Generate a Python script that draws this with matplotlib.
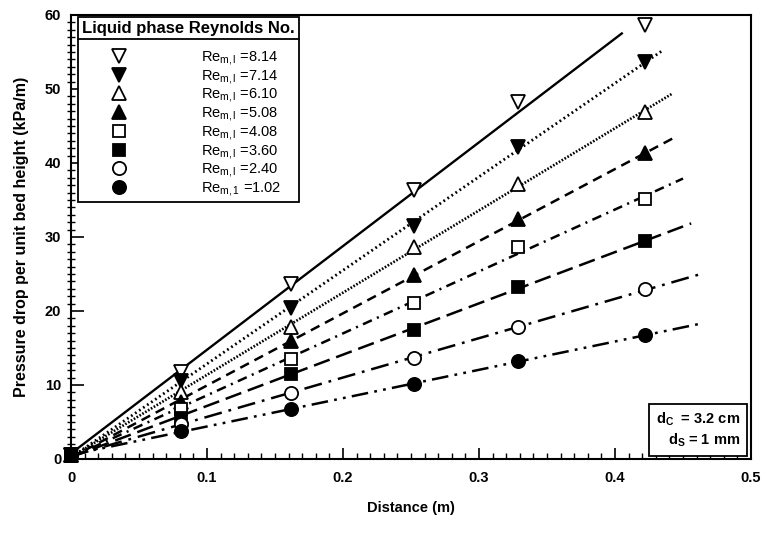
import numpy as np
import matplotlib
matplotlib.use("Agg")
import matplotlib.pyplot as plt
from matplotlib.lines import Line2D
from matplotlib.ticker import MultipleLocator, FuncFormatter

plt.rcParams['font.family'] = ['Liberation Sans', 'DejaVu Sans']
plt.rcParams['mathtext.fontset'] = 'custom'
plt.rcParams['mathtext.rm'] = 'Liberation Sans'
plt.rcParams['mathtext.it'] = 'Liberation Sans:italic'
plt.rcParams['mathtext.bf'] = 'Liberation Sans:bold'
plt.rcParams['lines.scale_dashes'] = False

# ---- data ----
distance = [0.0, 0.081, 0.162, 0.252, 0.329, 0.422]
re_814 = [0.5, 11.8, 23.6, 36.3, 48.2, 58.7]
re_714 = [0.5, 10.5, 20.4, 31.5, 42.2, 53.7]
re_610 = [0.5, 9.0, 17.9, 28.6, 37.1, 46.9]
re_508 = [0.5, 7.7, 15.9, 24.8, 32.4, 41.3]
re_408 = [0.5, 6.8, 13.5, 21.1, 28.6, 35.2]
re_360 = [0.5, 5.6, 11.5, 17.4, 23.3, 29.5]
re_240 = [0.5, 4.7, 8.9, 13.6, 17.8, 23.0]
re_102 = [0.5, 3.8, 6.7, 10.2, 13.2, 16.7]
series = [re_814, re_714, re_610, re_508, re_408, re_360, re_240, re_102]
labels = [r'Re$_{\mathrm{m,l}}$ =8.14', r'Re$_{\mathrm{m,l}}$ =7.14', r'Re$_{\mathrm{m,l}}$ =6.10',
          r'Re$_{\mathrm{m,l}}$ =5.08', r'Re$_{\mathrm{m,l}}$ =4.08', r'Re$_{\mathrm{m,l}}$ =3.60',
          r'Re$_{\mathrm{m,l}}$ =2.40', r'Re$_{\mathrm{m,1}}$ =1.02']
fit_end = [0.405, 0.435, 0.442, 0.446, 0.450, 0.456, 0.464, 0.462]

# ---- styles ----
markers = ['v', 'v', '^', '^', 's', 's', 'o', 'o']
fills = ['white', 'black', 'white', 'black', 'white', 'black', 'white', 'black']
msizes = [10, 10, 10, 10, 9, 9, 9.5, 9.5]
linestyles = ['-', (0, (1.3, 2.2)), (0, (1.2, 1.2)), (0, (7, 4.5)),
              (0, (7, 4, 1.5, 4)), (0, (12, 5)), (0, (13, 5, 2, 5)),
              (0, (12, 4.5, 2, 4.5, 2, 4.5))]
linewidths = [1.7, 2.0, 1.9, 1.8, 1.8, 1.8, 1.8, 1.8]

W, H = 763, 545
L, R, T, B = 71, 751, 15, 459
fig = plt.figure(figsize=(W / 100, H / 100), dpi=100)
ax = fig.add_axes([L / W, 1 - B / H, (R - L) / W, (B - T) / H])

for ys, m, fc, ms, ls, lw, xe in zip(series, markers, fills, msizes, linestyles, linewidths, fit_end):
    k, b = np.polyfit(distance, ys, 1)
    xx = np.array([0.0, xe])
    ax.plot(xx, k * xx + b, color='black', lw=lw, linestyle=ls, zorder=2)
    ax.plot(distance, ys, linestyle='none', marker=m, markersize=ms, markerfacecolor=fc,
            markeredgecolor='black', markeredgewidth=1.3, zorder=3, clip_on=False)

ax.set_xlim(0, 0.5)
ax.set_ylim(0, 60)
ax.xaxis.set_major_locator(MultipleLocator(0.1))
ax.xaxis.set_minor_locator(MultipleLocator(0.01))
ax.yaxis.set_major_locator(MultipleLocator(10))
ax.yaxis.set_minor_locator(MultipleLocator(1))
ax.xaxis.set_major_formatter(FuncFormatter(lambda v, p: '0' if abs(v) < 1e-9 else f'{v:.1f}'))
ax.tick_params(axis='x', which='major', direction='in', length=8, width=1.2, pad=9)
ax.tick_params(axis='x', which='minor', direction='in', length=4, width=1.0)
ax.tick_params(axis='y', which='major', direction='in', length=9, width=1.2, pad=7)
ax.tick_params(axis='y', which='minor', direction='inout', length=6, width=1.0)
ax.tick_params(labelsize=10.5)
for lab in ax.get_xticklabels() + ax.get_yticklabels():
    lab.set_fontweight('bold')
for sp in ax.spines.values():
    sp.set_linewidth(1.5)

ax.set_xlabel('Distance (m)', fontsize=10.5, fontweight='bold', labelpad=11)
ax.set_ylabel('Pressure drop per unit bed height (kPa/m)', fontsize=11.5, fontweight='bold', labelpad=11)

handles = [Line2D([], [], linestyle='none', marker=m, markersize=ms, markerfacecolor=fc,
                  markeredgecolor='black', markeredgewidth=1.3)
           for m, fc, ms in zip(markers, fills, msizes)]
leg = ax.legend(handles, labels, title='Liquid phase Reynolds No.', loc='upper left',
                bbox_to_anchor=((78 - L) / (R - L), 1 - (17 - T) / (B - T)), borderaxespad=0,
                fontsize=10.5, title_fontproperties={'weight': 'bold', 'size': 12},
                frameon=True, fancybox=False, edgecolor='black', framealpha=1,
                handlelength=3.2, handletextpad=4.0, labelspacing=0.05, borderpad=0.3)
leg.get_frame().set_linewidth(1.3)
leg._legend_box.sep = 9

fig.canvas.draw()
r = fig.canvas.get_renderer()
tb = leg.get_title().get_window_extent(r)
fb = leg.get_frame().get_window_extent(r)
yline = tb.y0 - 3
inv = fig.transFigure.inverted()
(x0, y0), (x1, _) = inv.transform([(fb.x0, yline), (fb.x1, yline)])
fig.add_artist(Line2D([x0, x1], [y0, y0], color='black', lw=1.3, transform=fig.transFigure, zorder=10))

ax.text((740 - L) / (R - L), (B - 449) / (B - T),
        r'd$_{\mathbf{C}}$  = 3.2 cm' + '\n' + r'd$_{\mathbf{S}}$ = 1 mm',
        transform=ax.transAxes, ha='right', va='bottom', fontsize=10.5, fontweight='bold',
        linespacing=1.25,
        bbox=dict(boxstyle='square,pad=0.45', facecolor='white', edgecolor='black', linewidth=1.3),
        zorder=5)

fig.savefig('out.png', dpi=100)
